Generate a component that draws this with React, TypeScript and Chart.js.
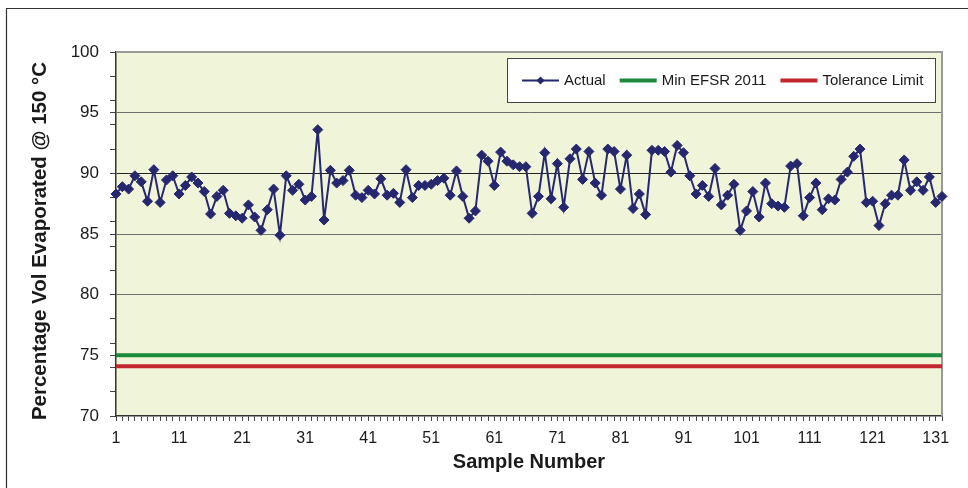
import { useEffect, useRef } from 'react';
import { Chart, registerables } from 'chart.js';

Chart.register(...registerables);

// Sample numbers along the x axis (1..132)
const SAMPLE_NUMBERS: string[] = Array.from({ length: 132 }, (_, i) => String(i + 1));

// % volume evaporated at 150 °C for each sample
const ACTUAL: number[] = [
  88.3, 88.9, 88.7, 89.8, 89.3, 87.7, 90.3, 87.6, 89.45, 89.8,
  88.3, 89.0, 89.7, 89.2, 88.5, 86.65, 88.1, 88.6, 86.7, 86.5,
  86.3, 87.4, 86.4, 85.3, 87.0, 88.7, 84.9, 89.8, 88.6, 89.1,
  87.8, 88.1, 93.6, 86.15, 90.25, 89.2, 89.4, 90.25, 88.2, 88.0,
  88.6, 88.3, 89.55, 88.2, 88.35, 87.6, 90.3, 88.0, 89.0, 89.0,
  89.1, 89.4, 89.6, 88.2, 90.2, 88.1, 86.3, 86.9, 91.5, 91.0,
  89.0, 91.75, 91.0, 90.7, 90.55, 90.55, 86.7, 88.1, 91.7, 87.9,
  90.8, 87.2, 91.2, 92.0, 89.5, 91.8, 89.2, 88.2, 92.0, 91.8,
  88.7, 91.5, 87.1, 88.3, 86.6, 91.9, 91.9, 91.8, 90.1, 92.3,
  91.7, 89.8, 88.3, 89.0, 88.1, 90.4, 87.4, 88.2, 89.1, 85.3,
  86.9, 88.5, 86.4, 89.2, 87.5, 87.3, 87.2, 90.6, 90.8, 86.5,
  88.0, 89.2, 87.0, 87.9, 87.8, 89.5, 90.1, 91.4, 92.0, 87.6,
  87.7, 85.7, 87.5, 88.2, 88.2, 91.1, 88.6, 89.3, 88.6, 89.7,
  87.6, 88.1,
];

// Reference limits
const MIN_EFSR_2011 = 75;
const TOLERANCE_LIMIT = 74.1;

// y axis: labelled every 5, small tick marks every 2
const Y_TICKS: number[] = [70, 72, 74, 75, 76, 78, 80, 82, 84, 85, 86, 88, 90, 92, 94, 95, 96, 98, 100];
const X_LABEL_EVERY = 10;

const Y_TITLE = 'Percentage Vol Evaporated @ 150 °C';
const X_TITLE = 'Sample Number';

const NAVY = '#25286f';
const GREEN = '#1b8a3c';
const RED = '#c4262d';
const PLOT_BG = '#f0f4d8';
const FONT = "'Liberation Sans', Arial, sans-serif";

const LEGEND_ITEMS = [
  { text: 'Actual', color: NAVY, width: 2, marker: true },
  { text: 'Min EFSR 2011', color: GREEN, width: 4, marker: false },
  { text: 'Tolerance Limit', color: RED, width: 4, marker: false },
];

const framePlugin = {
  id: 'frame',
  beforeDraw(chart: any) {
    const { ctx, chartArea: a, width, height } = chart;
    ctx.save();
    ctx.fillStyle = '#ffffff';
    ctx.fillRect(0, 0, width, height);
    // outer frame (left and top edges)
    ctx.strokeStyle = '#333333';
    ctx.lineWidth = 1.2;
    ctx.beginPath();
    ctx.moveTo(6.5, height);
    ctx.lineTo(6.5, 8.5);
    ctx.lineTo(width, 8.5);
    ctx.stroke();
    // plot area fill
    ctx.fillStyle = PLOT_BG;
    ctx.fillRect(a.left, a.top, a.right - a.left, a.bottom - a.top);
    // vertical axis title
    ctx.translate(40, 241);
    ctx.rotate(-Math.PI / 2);
    ctx.font = `bold 20.5px ${FONT}`;
    ctx.fillStyle = '#1a1a1a';
    ctx.textAlign = 'center';
    ctx.textBaseline = 'middle';
    ctx.fillText(Y_TITLE, 0, 0);
    ctx.restore();
  },
  beforeDatasetsDraw(chart: any) {
    const { ctx, chartArea: a } = chart;
    ctx.save();
    ctx.strokeStyle = '#999999';
    ctx.lineWidth = 2;
    ctx.beginPath();
    ctx.moveTo(a.left, a.top);
    ctx.lineTo(a.right, a.top);
    ctx.lineTo(a.right, a.bottom);
    ctx.stroke();
    ctx.restore();
  },
  afterDraw(chart: any) {
    const { ctx } = chart;
    const box = { x: 507.5, y: 58.5, w: 428, h: 44 };
    ctx.save();
    ctx.fillStyle = '#ffffff';
    ctx.fillRect(box.x, box.y, box.w, box.h);
    ctx.strokeStyle = '#444444';
    ctx.lineWidth = 1;
    ctx.strokeRect(box.x, box.y, box.w, box.h);
    ctx.font = `15px ${FONT}`;
    ctx.textBaseline = 'middle';
    ctx.fillStyle = '#1a1a1a';
    const cy = box.y + box.h / 2;
    let x = 522;
    for (const item of LEGEND_ITEMS) {
      ctx.strokeStyle = item.color;
      ctx.lineWidth = item.width;
      ctx.beginPath();
      ctx.moveTo(x, cy);
      ctx.lineTo(x + 37, cy);
      ctx.stroke();
      if (item.marker) {
        const mx = x + 18.5;
        ctx.fillStyle = item.color;
        ctx.beginPath();
        ctx.moveTo(mx - 4, cy);
        ctx.lineTo(mx, cy - 4);
        ctx.lineTo(mx + 4, cy);
        ctx.lineTo(mx, cy + 4);
        ctx.closePath();
        ctx.fill();
      }
      ctx.fillStyle = '#1a1a1a';
      ctx.fillText(item.text, x + 42, cy);
      x += 42 + ctx.measureText(item.text).width + 14;
    }
    ctx.restore();
  },
};

export default function App() {
  const canvasRef = useRef<HTMLCanvasElement | null>(null);

  useEffect(() => {
    if (!canvasRef.current) return;
    Chart.defaults.font.family = FONT;
    const chart = new Chart(canvasRef.current, {
      type: 'line',
      data: {
        labels: SAMPLE_NUMBERS,
        datasets: [
          {
            label: 'Min EFSR 2011',
            data: SAMPLE_NUMBERS.map(() => MIN_EFSR_2011),
            borderColor: GREEN,
            borderWidth: 4,
            pointRadius: 0,
            fill: false,
          },
          {
            label: 'Tolerance Limit',
            data: SAMPLE_NUMBERS.map(() => TOLERANCE_LIMIT),
            borderColor: RED,
            borderWidth: 4,
            pointRadius: 0,
            fill: false,
          },
          {
            label: 'Actual',
            data: ACTUAL,
            borderColor: NAVY,
            borderWidth: 2,
            pointStyle: 'rectRot',
            pointRadius: 5,
            pointBackgroundColor: NAVY,
            pointBorderColor: NAVY,
            pointBorderWidth: 1,
            tension: 0,
            fill: false,
            clip: false as any,
          },
        ],
      },
      options: {
        responsive: false,
        animation: false,
        devicePixelRatio: 1,
        layout: { padding: { left: 0, top: 52, right: 26, bottom: 0 } },
        plugins: { legend: { display: false }, tooltip: { enabled: false } },
        scales: {
          x: {
            type: 'category',
            afterFit: (s: any) => { s.height = 72; },
            ticks: {
              autoSkip: false,
              maxRotation: 0,
              minRotation: 0,
              padding: 8,
              color: '#1a1a1a',
              font: { size: 16 },
              callback: (_v: any, i: number) => (i % X_LABEL_EVERY === 0 ? SAMPLE_NUMBERS[i] : ''),
            },
            grid: { drawOnChartArea: false, drawTicks: true, tickLength: 5, tickColor: '#444444' },
            border: { color: '#333333', width: 1.5 },
            title: {
              display: true,
              text: X_TITLE,
              color: '#1a1a1a',
              font: { size: 20, weight: 'bold' },
              padding: { top: 0, bottom: 14 },
            },
          },
          y: {
            min: 70,
            max: 100,
            afterBuildTicks: (s: any) => { s.ticks = Y_TICKS.map((v) => ({ value: v })); },
            afterFit: (s: any) => { s.width = 116; },
            ticks: {
              autoSkip: false,
              padding: 11,
              color: '#1a1a1a',
              font: { size: 17 },
              callback: (v: any) => (Number(v) % 5 === 0 ? String(v) : ''),
            },
            grid: {
              color: (c: any) => {
                const v = c.tick ? c.tick.value : 0;
                if (v === 90) return '#222222';
                if (v % 5 === 0 && v > 70 && v < 100) return '#6e6e6e';
                return 'rgba(0,0,0,0)';
              },
              lineWidth: 1,
              drawTicks: true,
              tickLength: 6,
              tickColor: '#444444',
            },
            border: { color: '#333333', width: 1.5 },
            title: { display: false },
          },
        },
      },
      plugins: [framePlugin],
    } as any);
    return () => chart.destroy();
  }, []);

  return (
    <div style={{ position: 'absolute', left: 0, top: 0, width: 968, height: 488 }}>
      <canvas ref={canvasRef} width={968} height={488} style={{ display: 'block' }} />
    </div>
  );
}
